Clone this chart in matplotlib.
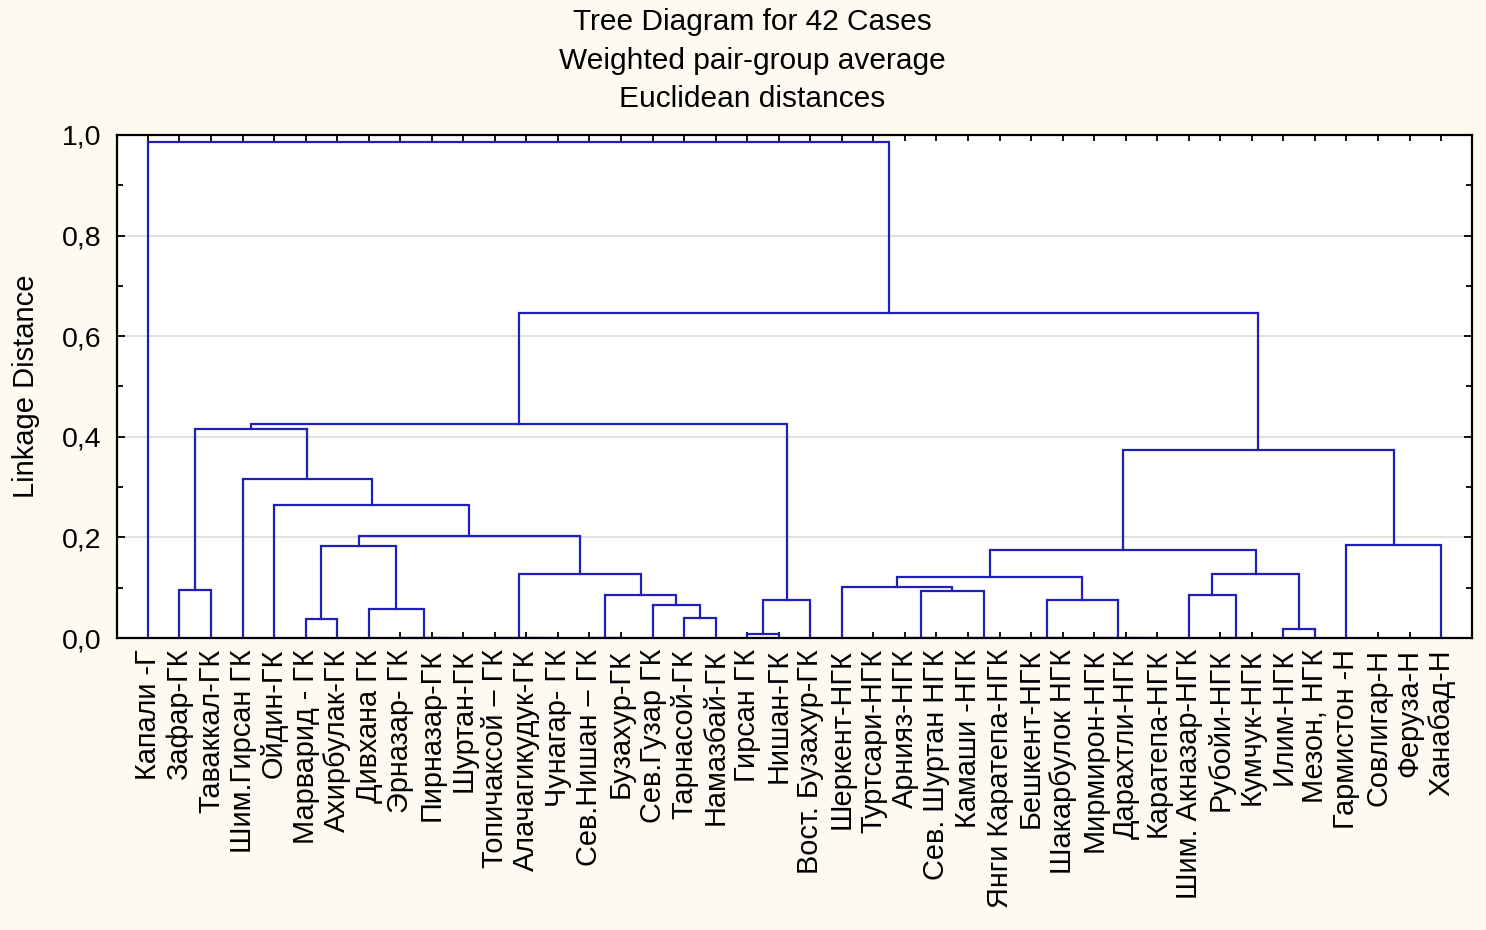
"""Tree diagram (weighted pair-group average) of 42 fields, STATISTICA style."""

import matplotlib

matplotlib.use("Agg")
import matplotlib.pyplot as plt
from matplotlib.ticker import FixedLocator, MultipleLocator

plt.rcParams["font.family"] = ["Liberation Sans", "DejaVu Sans"]

labels = [
    "Капали -Г", "Зафар-ГК", "Таваккал-ГК", "Шим.Гирсан ГК", "Ойдин-ГК",
    "Марварид - ГК", "Ахирбулак-ГК", "Дивхана ГК", "Эрназар- ГК", "Пирназар-ГК",
    "Шуртан-ГК", "Топичаксой – ГК", "Алачагикудук-ГК", "Чунагар- ГК",
    "Сев.Нишан – ГК", "Бузахур-ГК", "Сев.Гузар ГК", "Тарнасой-ГК", "Намазбай-ГК",
    "Гирсан ГК", "Нишан-ГК", "Вост. Бузахур-ГК", "Шеркент-НГК", "Туртсари-НГК",
    "Арнияз-НГК", "Сев. Шуртан НГК", "Камаши -НГК", "Янги Каратепа-НГК",
    "Бешкент-НГК", "Шакарбулок НГК", "Мирмирон-НГК", "Дарахтли-НГК",
    "Каратепа-НГК", "Шим. Акназар-НГК", "Рубойи-НГК", "Кумчук-НГК", "Илим-НГК",
    "Мезон, НГК", "Гармистон -Н", "Совлигар-Н", "Феруза-Н", "Ханабад-Н",
]

# linkage steps, scipy style: ids < 42 are cases, 42 + k is the cluster of step k
left_child = [9, 8, 12, 11, 14, 24, 26, 28, 31, 30, 34, 19, 36, 5, 17, 7, 16, 53, 49,
              33, 46, 47, 1, 22, 65, 45, 61, 66, 55, 38, 70, 4, 3, 69, 64, 76, 77, 0]
right_child = [10, 42, 13, 44, 15, 25, 27, 29, 32, 50, 35, 20, 37, 6, 18, 43, 56, 21, 51,
               52, 58, 48, 2, 63, 60, 62, 54, 68, 57, 41, 67, 72, 73, 71, 74, 59, 75, 78]
link_height = [0.0, 0.0, 0.0, 0.0, 0.0, 0.0, 0.0, 0.0, 0.0, 0.0, 0.0, 0.007, 0.018,
               0.038, 0.040, 0.058, 0.065, 0.075, 0.076, 0.085, 0.086, 0.094, 0.095,
               0.101, 0.122, 0.128, 0.128, 0.174, 0.183, 0.184, 0.203, 0.264, 0.317,
               0.373, 0.415, 0.426, 0.647, 0.986]

title_lines = ["Tree Diagram for 42 Cases", "Weighted pair-group average", "Euclidean distances"]
y_ticks = [0.0, 0.2, 0.4, 0.6, 0.8, 1.0]
y_tick_labels = ["0,0", "0,2", "0,4", "0,6", "0,8", "1,0"]

LINE_COLOR = "#2020b8"
n_cases = len(labels)

fig = plt.figure(figsize=(14.86, 9.30), dpi=100, facecolor="#fdfbf1")
ax = fig.add_axes([117 / 1486, 1 - 638 / 930, 1355 / 1486, 503 / 930])
ax.set_facecolor("white")

position = {i: float(i) for i in range(n_cases)}
height = {i: 0.0 for i in range(n_cases)}
for step, (a, b, h) in enumerate(zip(left_child, right_child, link_height)):
    xa, xb = position[a], position[b]
    ax.plot([xa, xa, xb, xb], [height[a], h, h, height[b]],
            color=LINE_COLOR, linewidth=1.6, solid_joinstyle="miter", zorder=2)
    position[n_cases + step] = (xa + xb) / 2
    height[n_cases + step] = h

ax.set_xlim(-0.98, n_cases - 0.02)
ax.set_ylim(0, 1.0)

ax.xaxis.set_major_locator(FixedLocator(range(n_cases)))
ax.set_xticklabels(labels, rotation=90, fontsize=20.8)
ax.set_yticks(y_ticks)
ax.set_yticklabels(y_tick_labels, fontsize=20.5)
ax.yaxis.set_minor_locator(MultipleLocator(0.1))

ax.tick_params(axis="x", direction="in", length=4, width=1.3, top=True, pad=8)
ax.tick_params(axis="y", which="major", direction="in", length=6, width=1.3,
               right=True, pad=11)
ax.tick_params(axis="y", which="minor", direction="in", length=4, width=1.3, right=True)

ax.grid(axis="y", which="major", color="#dcdcdc", linewidth=1.2, zorder=0)
ax.set_axisbelow(True)
for spine in ax.spines.values():
    spine.set_linewidth(1.6)
    spine.set_zorder(3)

ax.set_ylabel("Linkage Distance", fontsize=21, labelpad=16)

for line, y_px in zip(title_lines, [22, 61, 99]):
    fig.text(752 / 1486, 1 - y_px / 930, line, ha="center", va="center", fontsize=21.5)

fig.savefig("out.png", dpi=100, facecolor=fig.get_facecolor())
